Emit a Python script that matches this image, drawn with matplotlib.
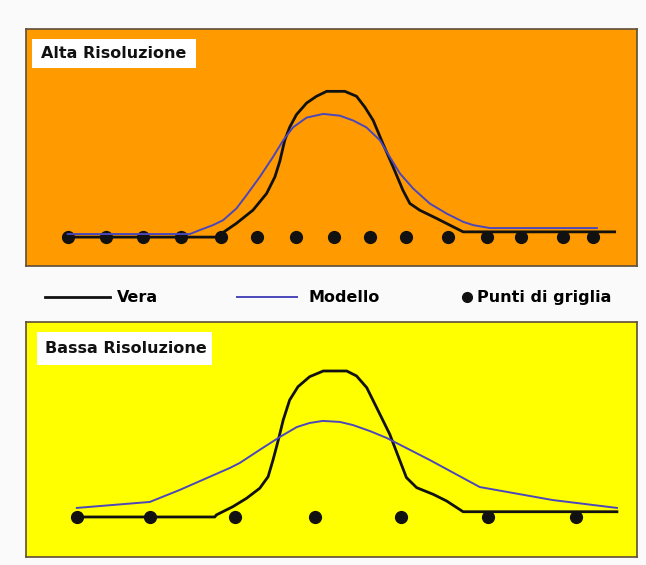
import matplotlib.pyplot as plt
from matplotlib.lines import Line2D
from matplotlib.patches import Rectangle

# x = grid-point index of the fine grid, y = relative amplitude (peak of "Vera" = 1)
alta_vera_x = [0, 4.02, 4.07, 4.46, 4.90, 5.26, 5.48, 5.61, 5.74, 5.87, 6.05, 6.32, 6.58,
               6.85, 7.33, 7.64, 7.86, 8.08, 8.34, 8.61, 8.87, 9.05, 9.31, 9.76, 10.11,
               10.46, 14.47]
alta_vera_y = [0, 0, 0.025, 0.094, 0.185, 0.299, 0.413, 0.52, 0.664, 0.753, 0.84, 0.92,
               0.966, 1.0, 1.0, 0.966, 0.892, 0.801, 0.64, 0.48, 0.32, 0.231, 0.185,
               0.128, 0.082, 0.036, 0.036]

alta_modello_x = [0, 3.23, 3.49, 3.84, 4.11, 4.46, 4.73, 5.08, 5.43, 5.70, 5.96, 6.32,
                  6.76, 7.20, 7.55, 7.90, 8.26, 8.52, 8.79, 9.14, 9.58, 10.02, 10.46,
                  10.73, 11.17, 14.0]
alta_modello_y = [0.021, 0.021, 0.048, 0.082, 0.116, 0.196, 0.288, 0.413, 0.55, 0.664,
                  0.753, 0.82, 0.845, 0.833, 0.80, 0.753, 0.664, 0.55, 0.436, 0.333,
                  0.23, 0.162, 0.105, 0.082, 0.062, 0.062]

alta_griglia_x = [0, 1, 2, 3, 4.05, 5, 6.05, 7.05, 8, 8.95, 10.05, 11.1, 12, 13.1, 13.9]

bassa_vera_x = [0.24, 3.89, 3.93, 4.37, 4.73, 5.08, 5.30, 5.43, 5.57, 5.70, 5.87, 6.09,
                6.40, 6.76, 7.38, 7.64, 7.91, 8.26, 8.52, 8.79, 8.96, 9.23, 9.67, 10.02,
                10.46, 14.53]
bassa_vera_y = [0, 0, 0.014, 0.071, 0.128, 0.197, 0.276, 0.39, 0.527, 0.664, 0.801,
                0.892, 0.961, 1.0, 1.0, 0.966, 0.886, 0.703, 0.566, 0.384, 0.27, 0.201,
                0.155, 0.11, 0.036, 0.036]

bassa_modello_x = [0.24, 2.17, 2.96, 4.29, 4.55, 5.08, 5.61, 6.06, 6.40, 6.75, 7.20,
                   7.54, 7.99, 8.44, 9.58, 10.90, 12.83, 14.53]
bassa_modello_y = [0.062, 0.103, 0.185, 0.336, 0.37, 0.46, 0.548, 0.616, 0.644, 0.658,
                   0.651, 0.63, 0.589, 0.541, 0.39, 0.205, 0.116, 0.062]

bassa_griglia_x = [0.24, 2.17, 4.42, 6.54, 8.81, 11.11, 13.44]

titoli = ["Alta Risoluzione", "Bassa Risoluzione"]
legenda = ["Vera", "Modello", "Punti di griglia"]

BLACK = "#111111"
BLUE = "#4b47bb"
FS = 11.5

fig = plt.figure(figsize=(6.46, 5.65), dpi=100)
fig.patch.set_facecolor("#fafafa")

ax_top = fig.add_axes([0.040, 0.529, 0.946, 0.419])
ax_bot = fig.add_axes([0.040, 0.0142, 0.946, 0.416])

panels = [
    (ax_top, "#ff9a00", alta_vera_x, alta_vera_y, alta_modello_x, alta_modello_y,
     alta_griglia_x, (-0.199, 1.425), (0.0098, 0.835, 0.268, 0.123), (0.0245, 0.897)),
    (ax_bot, "#ffff00", bassa_vera_x, bassa_vera_y, bassa_modello_x, bassa_modello_y,
     bassa_griglia_x, (-0.274, 1.336), (0.018, 0.817, 0.286, 0.140), (0.031, 0.887)),
]

for i, (ax, bg, vx, vy, mx, my, gx, ylim, box, lab_pos) in enumerate(panels):
    ax.set_facecolor(bg)
    ax.plot(gx, [0] * len(gx), "o", color=BLACK, markersize=8.5, zorder=2)
    ax.plot(vx, vy, color=BLACK, linewidth=2.0, solid_joinstyle="round", zorder=3)
    ax.plot(mx, my, color=BLUE, linewidth=1.4, solid_joinstyle="round", zorder=4)
    ax.set_xlim(-1.11, 15.06)
    ax.set_ylim(*ylim)
    ax.set_xticks([])
    ax.set_yticks([])
    for s in ax.spines.values():
        s.set_color("#5f4e38")
        s.set_linewidth(1.2)
    ax.add_patch(Rectangle(box[:2], box[2], box[3], transform=ax.transAxes,
                           facecolor="white", edgecolor="none", zorder=5))
    ax.text(lab_pos[0], lab_pos[1], titoli[i], transform=ax.transAxes,
            fontsize=FS, fontweight="bold", color=BLACK, va="center", ha="left", zorder=6)

# legend between the two panels, laid out by hand
ly = 0.474
fig.add_artist(Line2D([0.070, 0.170], [ly, ly], color=BLACK, linewidth=2.0))
fig.text(0.181, ly, legenda[0], fontsize=FS, fontweight="bold", va="center", ha="left")
fig.add_artist(Line2D([0.367, 0.460], [ly, ly], color=BLUE, linewidth=1.4))
fig.text(0.477, ly, legenda[1], fontsize=FS, fontweight="bold", va="center", ha="left")
fig.add_artist(Line2D([0.723], [ly], linestyle="none", marker="o", color=BLACK,
                      markersize=7))
fig.text(0.738, ly, legenda[2], fontsize=FS, fontweight="bold", va="center", ha="left")

fig.savefig("out.png", dpi=100, facecolor=fig.get_facecolor())
